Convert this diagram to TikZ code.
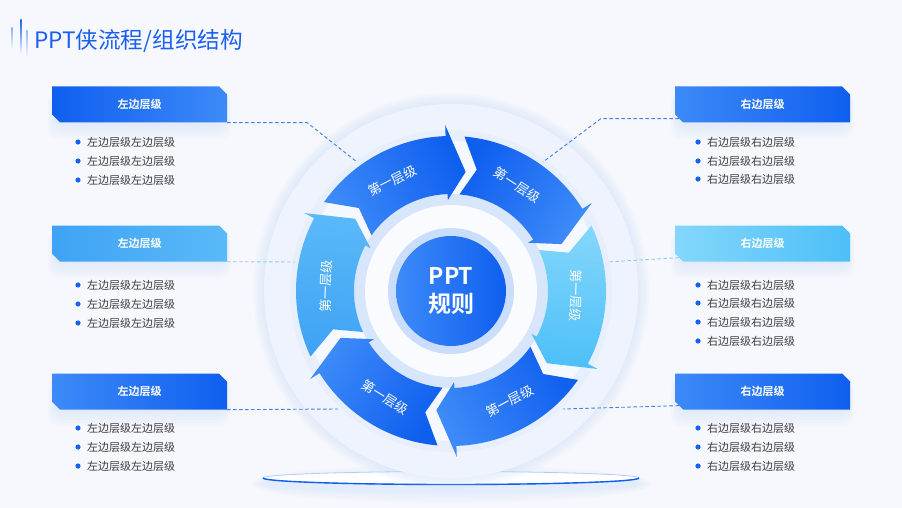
\documentclass[tikz,border=0pt]{standalone}
\usepackage{fontspec}
\newfontfamily\cjk{Noto Sans CJK SC}[BoldFont={Noto Sans CJK SC Bold}]
\usetikzlibrary{shapes.misc}
\definecolor{pagebg}{HTML}{F6F8FD}
\definecolor{titleblue}{HTML}{1B5FF0}
\definecolor{deepblue}{HTML}{0F5FEF}
\definecolor{softblue}{HTML}{3D8AF8}
\definecolor{skyA}{HTML}{3FA3F5}
\definecolor{skyB}{HTML}{5AB9F8}
\definecolor{cyanA}{HTML}{84D7FB}
\definecolor{cyanB}{HTML}{4DBFF8}
\definecolor{itemgray}{HTML}{3C3C3C}
\definecolor{dotblue}{HTML}{1463F2}
\definecolor{linkblue}{HTML}{3F80F0}
\definecolor{linksky}{HTML}{8FCBF6}
\definecolor{discpale}{HTML}{EEF3FD}
\definecolor{glowblue}{HTML}{B9D2FA}

\newcommand\boxglow[1]{%
  \foreach \k in {0,3,...,15}
    \fill[glowblue, opacity=0.06, rounded corners=10pt] (#1) ++(-84-\k/2,-12-\k) rectangle ++(168+\k,24+1.6*\k);}

\begin{document}
\begin{tikzpicture}[x=1pt,y=1pt,
    sidebox/.style={%
      chamfered rectangle,
      chamfered rectangle corners={north east,south west},
      chamfered rectangle xsep=4pt,
      chamfered rectangle ysep=4pt,
      minimum width=175pt, minimum height=36pt, inner sep=0pt,
      text=white, font=\cjk\bfseries\fontsize{11}{13}\selectfont,
    },
    item/.style={anchor=west, inner sep=0pt, text=itemgray,
      font=\cjk\fontsize{11}{13}\selectfont},
    link/.style={dash pattern=on 3.5pt off 2.5pt, line width=0.9pt},
    ringtext/.style={text=white, font=\cjk\fontsize{13}{15}\selectfont},
  ]

    \useasboundingbox (0,0) rectangle (902,-508);
    \fill[pagebg] (0,0) rectangle (902,-508);

    \shade[top color=titleblue!50, bottom color=pagebg] (11.3,-28) rectangle (12.7,-49);
    \shade[top color=titleblue, bottom color=pagebg] (20.3,-20) rectangle (21.7,-54);
    \shade[top color=titleblue!45, bottom color=pagebg] (26.3,-31) rectangle (27.7,-58);
    \node [anchor=west, inner sep=0pt, text=titleblue,
      font=\cjk\fontsize{22.6}{26}\selectfont] (title) at (34,-41) {PPT侠流程/组织结构};

    \foreach \k in {1,...,6}
      \fill[glowblue, opacity=0.05] (451,-484) ellipse ({188+\k*2} and {6+\k*2.2});
    \fill[white] (451,-478) ellipse (188 and 6.5);
    \draw[linkblue!40, line width=0.8pt] (451,-478) ellipse (188 and 6.5);
    \draw[deepblue, line width=1.4pt] (263,-478) arc[start angle=180, end angle=360, x radius=188, y radius=6.5];

    \begin{scope}[shift={(451,-291)}]
      \foreach \k in {0,...,5}
        \fill[glowblue, opacity=0.06] (0,0) circle (188+\k*2);
      \fill[discpale] (0,0) circle (187);
      \fill[glowblue!35] (0,0) circle (161);
      \fill[white!40!discpale] (0,0) circle (150);
      \fill[glowblue!55] (0,0) circle (97);
      \fill[white!70!discpale] (0,0) circle (86);
      \fill[glowblue!75] (0,0) circle (63);

      \foreach \t/\ca/\cb/\rot [count=\n] in {145/softblue/deepblue/27,
          85/deepblue/softblue/-33, 25/cyanA/cyanB/-92,
          -35/deepblue/softblue/28, -95/deepblue/softblue/-32,
          -155/skyA/skyB/88} {
        \shade[left color=\ca, right color=\cb, shading angle=\t-28]
          (\t:155) arc[start angle=\t, end angle=\t-53, radius=155]
          -- (\t-53:166) -- (\t-62:120) -- (\t-53:91) -- (\t-53:97)
          arc[start angle=\t-53, end angle=\t, radius=97]
          -- (\t-7:124) -- cycle;
        \node [ringtext, rotate=\rot] (lvl\n) at (\t-27:125) {第一层级};
      }

      \node [circle, minimum size=110pt, inner sep=0pt,
        left color=softblue, right color=deepblue, text=white, align=center,
        font=\cjk\bfseries\fontsize{23}{28}\selectfont] (core) at (0,0) {PPT\\规则};
    \end{scope}

    \boxglow{139.5,-112}
    \boxglow{139.5,-251}
    \boxglow{139.5,-399}
    \boxglow{762.5,-112}
    \boxglow{762.5,-251}
    \boxglow{762.5,-399}

    \node [sidebox, left color=deepblue, right color=softblue] (lbox1) at (139.5,-104.5) {左边层级};
    \node [sidebox, left color=skyA, right color=skyB] (lbox2) at (139.5,-243.5) {左边层级};
    \node [sidebox, left color=softblue, right color=deepblue] (lbox3) at (139.5,-391.5) {左边层级};
    \node [sidebox, left color=softblue, right color=deepblue] (rbox1) at (762.5,-104.5) {右边层级};
    \node [sidebox, left color=cyanA, right color=cyanB] (rbox2) at (762.5,-243.5) {右边层级};
    \node [sidebox, left color=softblue, right color=deepblue] (rbox3) at (762.5,-391.5) {右边层级};

    \coordinate (hookL1) at (357,-162);
    \coordinate (hookL2) at (295,-262);
    \coordinate (hookL3) at (338,-409);
    \coordinate (hookR1) at (543,-162);
    \coordinate (hookR2) at (607,-262);
    \coordinate (hookR3) at (563,-409);

    \draw[link, linkblue] (lbox1.south east) -- ++(80,0) -- (hookL1);
    \draw[link, linksky] (lbox2.south east) -- (hookL2);
    \draw[link, linkblue] (lbox3.south east) -- (hookL3);
    \draw[link, linkblue] (rbox1.south west) -- ++(-78,0) -- (hookR1);
    \draw[link, linksky] (rbox2.south west) -- (hookR2);
    \draw[link, linkblue] (rbox3.south west) -- (hookR3);

    \foreach \y [count=\i] in {142,161,180} {
      \node [item] (la\i) at (87,-\y) {左边层级左边层级};
      \fill[dotblue] ([xshift=-9pt]la\i.west) circle (2.6pt);
    }
    \foreach \y [count=\i] in {285,304,323} {
      \node [item] (lb\i) at (87,-\y) {左边层级左边层级};
      \fill[dotblue] ([xshift=-9pt]lb\i.west) circle (2.6pt);
    }
    \foreach \y [count=\i] in {428,447,466} {
      \node [item] (lc\i) at (87,-\y) {左边层级左边层级};
      \fill[dotblue] ([xshift=-9pt]lc\i.west) circle (2.6pt);
    }
    \foreach \y [count=\i] in {142,161,179} {
      \node [item] (ra\i) at (707,-\y) {右边层级右边层级};
      \fill[dotblue] ([xshift=-9pt]ra\i.west) circle (2.6pt);
    }
    \foreach \y [count=\i] in {285,303,322,341} {
      \node [item] (rb\i) at (707,-\y) {右边层级右边层级};
      \fill[dotblue] ([xshift=-9pt]rb\i.west) circle (2.6pt);
    }
    \foreach \y [count=\i] in {428,447,466} {
      \node [item] (rc\i) at (707,-\y) {右边层级右边层级};
      \fill[dotblue] ([xshift=-9pt]rc\i.west) circle (2.6pt);
    }
\end{tikzpicture}
\end{document}
